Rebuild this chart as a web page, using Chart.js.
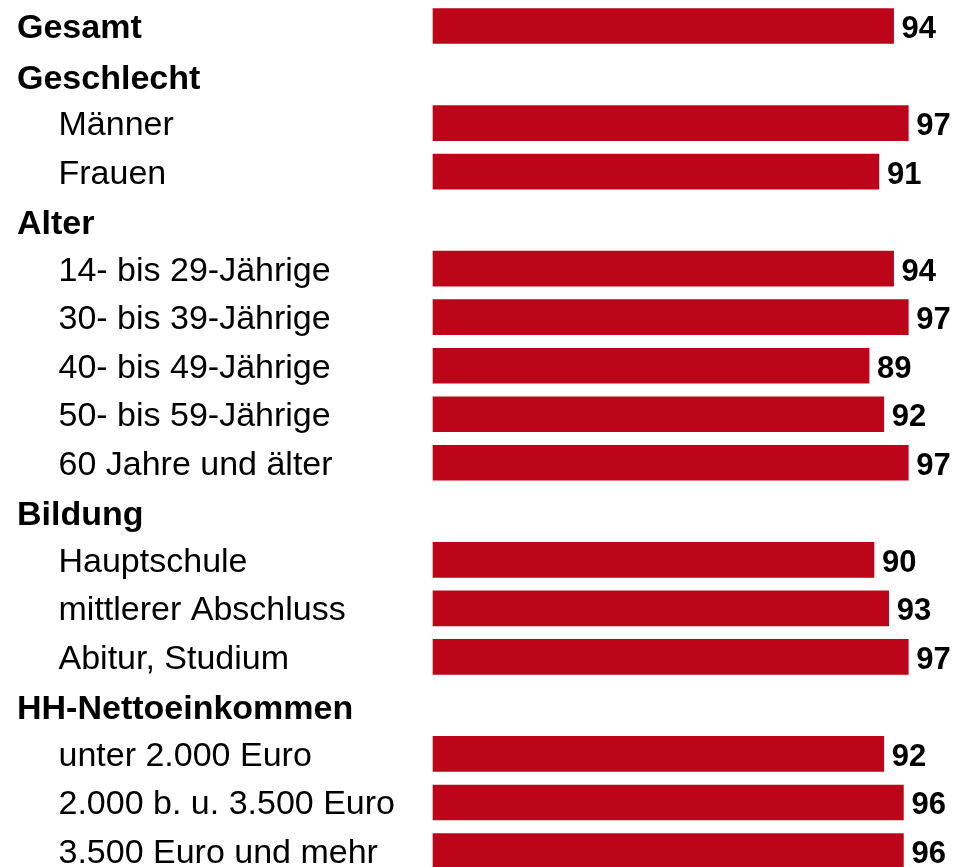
<!DOCTYPE html>
<html>
<head>
<meta charset="utf-8">
<script src="https://cdn.jsdelivr.net/npm/chart.js@4/dist/chart.umd.min.js"></script>
<style>
  html, body { margin: 0; padding: 0; background: #fff; overflow: hidden; }
  #wrap { width: 965px; height: 867px; position: relative; }
</style>
</head>
<body>
<div id="wrap"><canvas id="chart"></canvas></div>
<script>
// Zeilen des Diagramms (Überschriften ohne Balken)
const kategorien = [
    "Gesamt",
    "Geschlecht",
    "Männer",
    "Frauen",
    "Alter",
    "14- bis 29-Jährige",
    "30- bis 39-Jährige",
    "40- bis 49-Jährige",
    "50- bis 59-Jährige",
    "60 Jahre und älter",
    "Bildung",
    "Hauptschule",
    "mittlerer Abschluss",
    "Abitur, Studium",
    "HH-Nettoeinkommen",
    "unter 2.000 Euro",
    "2.000 b. u. 3.500 Euro",
    "3.500 Euro und mehr"
];
const fett = [true, true, false, false, true, false, false, false, false, false, true, false, false, false, true, false, false, false];
const werte = [94, null, 97, 91, null, 94, 97, 89, 92, 97, null, 90, 93, 97, null, 92, 96, 96];

const balkenFarbe = "#BD0519";

// Beschriftungen links und Werte am Balkenende
const beschriftung = {
    id: "beschriftung",
    afterDatasetsDraw(chart) {
        const ctx = chart.ctx;
        const y = chart.scales.y;
        const meta = chart.getDatasetMeta(0);
        ctx.save();
        ctx.fillStyle = "#000";
        ctx.textBaseline = "alphabetic";
        ctx.textAlign = "left";
        kategorien.forEach((text, i) => {
            const py = y.getPixelForValue(i);
            if (fett[i]) {
                ctx.font = "bold 34px 'Liberation Sans', Arial, sans-serif";
                // Überschriften sitzen etwas tiefer (ausser "Gesamt")
                const versatz = i > 0 ? 2 : 0;
                ctx.fillText(text, 17, py + 12 + versatz);
            } else {
                ctx.font = "34px 'Liberation Sans', Arial, sans-serif";
                ctx.fillText(text, 58.5, py + 12);
            }
            if (werte[i] !== null) {
                const bar = meta.data[i];
                ctx.font = "bold 31px 'Liberation Sans', Arial, sans-serif";
                ctx.fillText(String(werte[i]), bar.x + 8, py + 12);
            }
        });
        ctx.restore();
    }
};

new Chart(document.getElementById("chart").getContext("2d"), {
    type: "bar",
    data: {
        labels: kategorien,
        datasets: [
            {
                data: werte,
                backgroundColor: balkenFarbe,
                barThickness: 35,
                clip: false
            }
        ]
    },
    options: {
        indexAxis: "y",
        responsive: true,
        maintainAspectRatio: false,
        animation: false,
        layout: {
            padding: { left: 433, right: 42, top: 26, bottom: 16 }
        },
        scales: {
            x: { type: "linear", min: 0, max: 100, display: false },
            y: { type: "category", offset: false, display: false }
        },
        plugins: {
            legend: { display: false },
            tooltip: { enabled: false }
        }
    },
    plugins: [beschriftung]
});
</script>
</body>
</html>
